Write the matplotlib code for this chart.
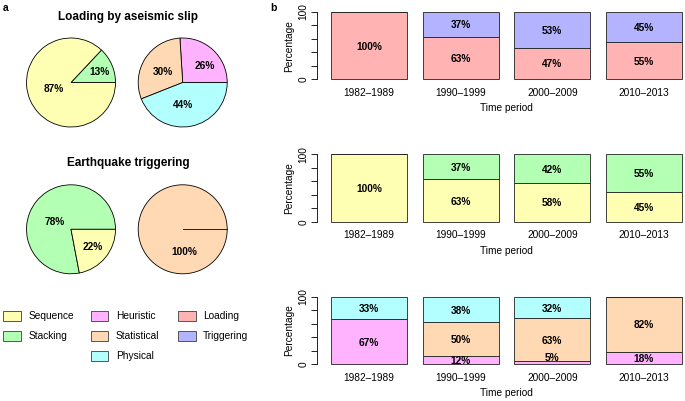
import numpy as np
import matplotlib
matplotlib.use("Agg")
from matplotlib import pyplot as plt
from matplotlib.patches import Rectangle

plt.rcParams['font.family'] = ['Liberation Sans', 'DejaVu Sans']

# colours
col = {
    "Sequence": "#FFFFB3", "Stacking": "#B3FFB3",
    "Heuristic": "#FFB3FF", "Statistical": "#FFD9B3", "Physical": "#B3FFFF",
    "Loading": "#FFB3B3", "Triggering": "#B3B3FF",
}

# pie data (drawn counter-clockwise from 3 o'clock, like R's pie)
pie_aseismic_method = [13, 87]
pie_aseismic_method_cat = ["Stacking", "Sequence"]
pie_aseismic_model = [26, 30, 44]
pie_aseismic_model_cat = ["Heuristic", "Statistical", "Physical"]
pie_trig_method = [78, 22]
pie_trig_method_cat = ["Stacking", "Sequence"]
pie_trig_model = [100]
pie_trig_model_cat = ["Statistical"]

# bar data
periods = ["1982\u20131989", "1990\u20131999", "2000\u20132009", "2010\u20132013"]
loading = [100, 63, 47, 55]
triggering = [0, 37, 53, 45]
sequence = [100, 63, 58, 45]
stacking = [0, 37, 42, 55]
heuristic = [67, 12, 5, 18]
statistical = [0, 50, 63, 82]
physical = [33, 38, 32, 0]

W, H = 685, 401
fig = plt.figure(figsize=(W / 100, H / 100), dpi=100)


def px_axes(x0, y0, x1, y1):
    # axes from pixel box (top-left origin)
    return fig.add_axes([x0 / W, 1 - y1 / H, (x1 - x0) / W, (y1 - y0) / H])


def draw_pie(cx, cy, vals, cats, lab_pos):
    r = 44.5
    half = 50
    ax = px_axes(cx - half, cy - half, cx + half, cy + half)
    ax.set_aspect("equal")
    ax.axis("off")
    ax.pie(vals, colors=[col[c] for c in cats], startangle=0,
           counterclock=True, radius=1, normalize=True,
           wedgeprops=dict(edgecolor="black", linewidth=0.6))
    if len(vals) == 1:
        ax.plot([0, 1], [0, 0], color="black", lw=0.6)
    for v, (ang, rr) in zip(vals, lab_pos):
        a = np.deg2rad(ang)
        ax.text(rr * np.cos(a), rr * np.sin(a), f"{v}%", ha="center",
                va="center", fontsize=7.3, fontweight="bold")
    ax.set_xlim(-half / r, half / r)
    ax.set_ylim(-half / r, half / r)


draw_pie(71, 82.5, pie_aseismic_method, pie_aseismic_method_cat, [(19.5, 0.69), (202, 0.41)])
draw_pie(182.7, 82.5, pie_aseismic_model, pie_aseismic_model_cat, [(36, 0.62), (152.7, 0.5), (270, 0.5)])
draw_pie(71, 229.3, pie_trig_method, pie_trig_method_cat, [(155, 0.41), (320, 0.63)])
draw_pie(182.7, 229.3, pie_trig_model, pie_trig_model_cat, [(274, 0.52)])

fig.text(128 / W, 1 - 17 / H, "Loading by aseismic slip", ha="center", va="center",
         fontsize=8.5, fontweight="bold")
fig.text(128 / W, 1 - 163 / H, "Earthquake triggering", ha="center", va="center",
         fontsize=8.5, fontweight="bold")
fig.text(6 / W, 1 - 8 / H, "a", ha="center", va="center", fontsize=7.5, fontweight="bold")
fig.text(273 / W, 1 - 8 / H, "b", ha="center", va="center", fontsize=7.5, fontweight="bold")

# legend (hand-placed boxes, R style)
legend_cols = [["Sequence", "Stacking"], ["Heuristic", "Statistical", "Physical"],
               ["Loading", "Triggering"]]
col_x = [3.3, 90.7, 178]
row_y = [315.7, 335.7, 355.7]
lax = px_axes(0, 0, W, H)
lax.set_xlim(0, W)
lax.set_ylim(H, 0)
lax.axis("off")
for cx, names in zip(col_x, legend_cols):
    for ry, nm in zip(row_y, names):
        lax.add_patch(Rectangle((cx, ry - 5), 17.7, 10, facecolor=col[nm],
                                edgecolor="#555555", linewidth=0.7))
        lax.text(cx + 25, ry, nm, va="center", ha="left", fontsize=7.3)


def draw_bars(top, bottom, series, cats):
    # axis box spans -4..104 like R's yaxs="r"
    ax = px_axes(317, top, 696, bottom)
    x = 0.7 + 1.2 * np.arange(len(periods))
    base = np.zeros(len(periods))
    for vals, c in zip(series, cats):
        vals = np.array(vals, dtype=float)
        ax.bar(x, vals, bottom=base, width=1, color=col[c], edgecolor="#222222",
               linewidth=0.6)
        for xi, b, v in zip(x, base, vals):
            if v <= 0:
                continue
            yy = b + v / 2 - 1.5 if v >= 10 else b + v + 5
            ax.text(xi, yy, f"{int(v)}%", ha="center", va="center",
                    fontsize=7.3, fontweight="bold")
        base = base + vals
    ax.set_xlim(0.016, 4.984)
    ax.set_ylim(-4, 104)
    for s in ["top", "right", "bottom"]:
        ax.spines[s].set_visible(False)
    ax.spines["left"].set_bounds(0, 100)
    ax.spines["left"].set_linewidth(0.6)
    ax.set_yticks([0, 20, 40, 60, 80, 100])
    ax.set_yticklabels(["0", "", "", "", "", "100"], rotation=90, va="center",
                       fontsize=7.3)
    ax.tick_params(axis="y", length=4, width=0.6, pad=2)
    ax.set_xticks(x)
    ax.set_xticklabels(periods, fontsize=7.3)
    ax.tick_params(axis="x", length=0, pad=4)
    ax.set_ylabel("Percentage", fontsize=7.3, labelpad=3)
    ax.set_xlabel("Time period", fontsize=7.3, labelpad=4)
    return ax


draw_bars(9.3, 82, [loading, triggering], ["Loading", "Triggering"])
draw_bars(151.6, 224.7, [sequence, stacking], ["Sequence", "Stacking"])
draw_bars(294, 367, [heuristic, statistical, physical],
          ["Heuristic", "Statistical", "Physical"])

fig.savefig("out.png", dpi=100)
